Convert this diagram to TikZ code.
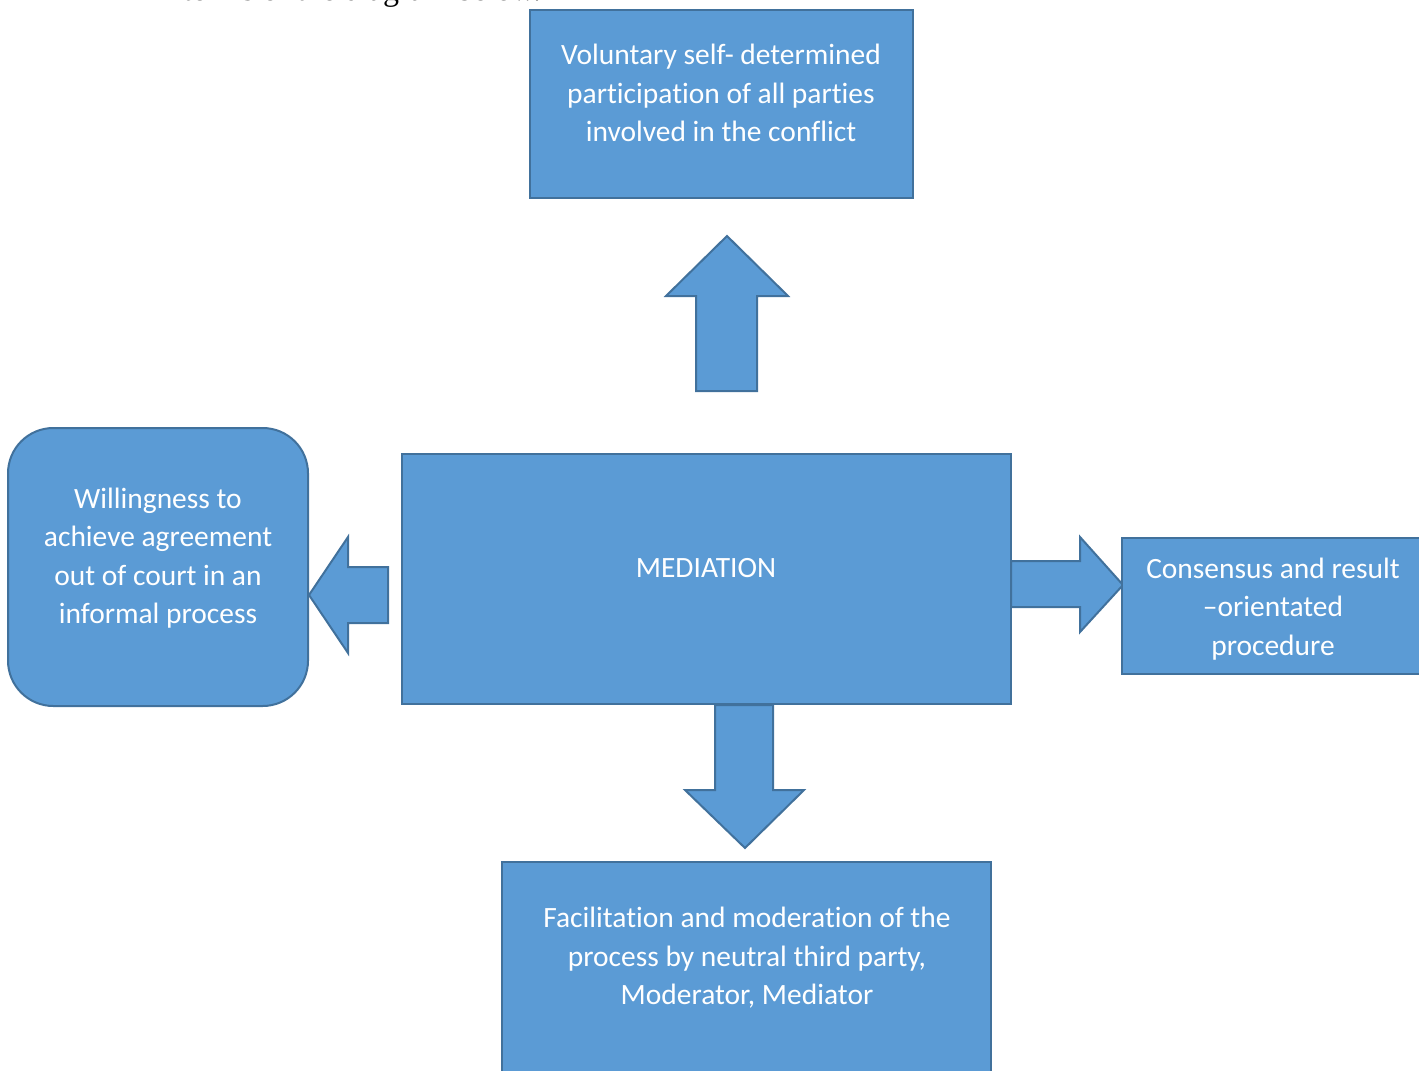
\documentclass[tikz,border=0pt]{standalone}
\usepackage{fontspec}
\setmainfont[Ligatures=NoCommon]{Carlito}
\newfontfamily\serifdoc{Liberation Serif}
\definecolor{boxfill}{HTML}{5B9BD5}
\definecolor{boxline}{HTML}{41719C}
\begin{document}
\begin{tikzpicture}[x=0.75pt,y=-0.75pt,
  shapebox/.style={draw=boxline,fill=boxfill,line width=1.5pt,inner sep=0pt,outer sep=0pt,anchor=north west},
  blockarrow/.style={draw=boxline,fill=boxfill,line width=1.5pt,line join=miter},
  label/.style={text=white,align=center,font=\fontsize{22.1}{28.9}\selectfont,inner sep=0pt}]
\useasboundingbox (0,0) rectangle (1419,1070);
\clip (0,0) rectangle (1419,1070);
% partially visible preceding line of text
\node[anchor=base west,inner sep=0pt,font=\serifdoc\fontsize{24}{28}\selectfont] (intro) at (150,1) {in terms of the diagram below.};
% block arrows
\draw[blockarrow] (727,236) -- (788,296) -- (757,296) -- (757,391) -- (696,391) -- (696,296) -- (666,296) -- cycle;
\draw[blockarrow] (309,595) -- (348,537) -- (348,567) -- (388,567) -- (388,623) -- (348,623) -- (348,653) -- cycle;
\draw[blockarrow] (1011,561) -- (1080,561) -- (1080,537) -- (1123,585) -- (1080,632) -- (1080,607) -- (1011,607) -- cycle;
\draw[blockarrow] (715,705) -- (773,705) -- (773,790) -- (804,790) -- (745,848) -- (685,790) -- (715,790) -- cycle;
% boxes
\node[shapebox,minimum width=383*0.75pt,minimum height=188*0.75pt] (topbox) at (530,10) {};
\node[shapebox,minimum width=609*0.75pt,minimum height=250*0.75pt] (medbox) at (402,454) {};
\node[shapebox,rounded corners=34pt,minimum width=300*0.75pt,minimum height=278*0.75pt] (leftbox) at (8,428) {};
\node[shapebox,minimum width=310*0.75pt,minimum height=136*0.75pt] (rightbox) at (1122,538) {};
\node[shapebox,minimum width=489*0.75pt,minimum height=250*0.75pt] (bottombox) at (502,862) {};
% texts
\node[label] (toptext) at (721,93) {Voluntary self- determined\\participation of all parties\\involved in the conflict};
\node[label] (medtext) at (706,568) {MEDIATION};
\node[label] (lefttext) at (158,558) {Willingness to\\achieve agreement\\out of court in an\\informal process};
\node[label] (righttext) at (1273,609) {Consensus and result\\–orientated\\procedure};
\node[label] (bottomtext) at (747,958) {Facilitation and moderation of the\\process by neutral third party,\\Moderator, Mediator};
\end{tikzpicture}
\end{document}
